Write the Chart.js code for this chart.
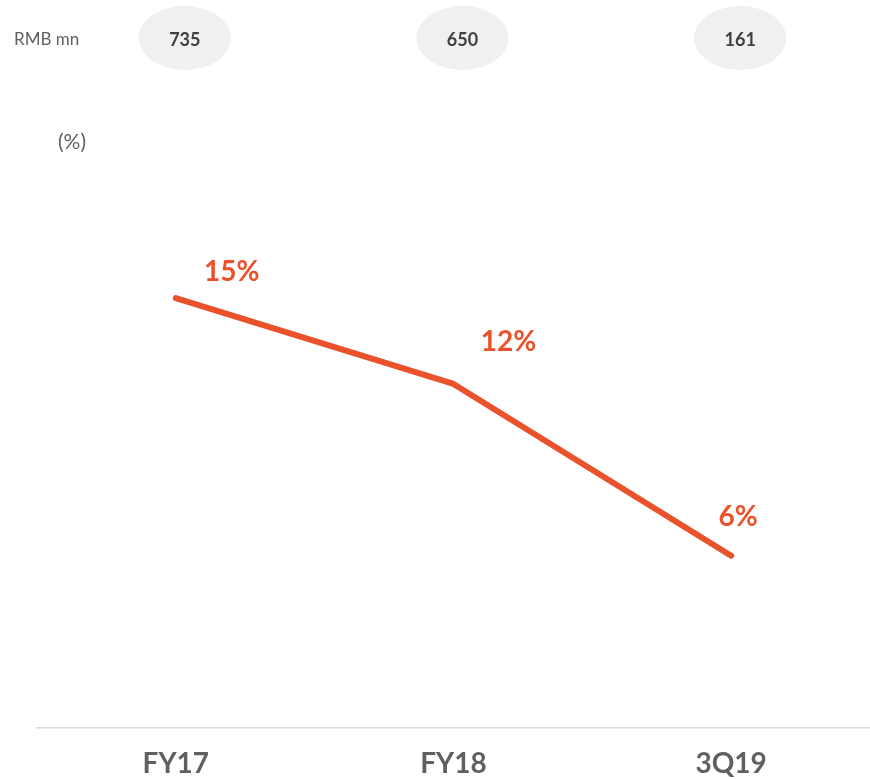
<!DOCTYPE html>
<html>
<head>
<meta charset="utf-8">
<script src="https://cdn.jsdelivr.net/npm/chart.js@4"></script>
<style>
  body { margin: 0; background: #fff; }
</style>
</head>
<body>
<canvas id="myChart" width="870" height="779"></canvas>
<script>
// data
var periods = ["FY17", "FY18", "3Q19"];
var marginPct = [15, 12, 6];
var amountRmbMn = [735, 650, 161];

var orange = "#e9522a";
var greyText = "#606060";

// label offsets from each point (px)
var labelOffsets = [[56, -26], [55, -42], [7, -39]];

var headerPlugin = {
  id: "header",
  afterDraw: function (chart) {
    var ctx = chart.ctx;
    var x = chart.scales.x;
    ctx.save();
    ctx.textBaseline = "middle";
    ctx.fillStyle = greyText;
    ctx.font = "17px Lato";
    ctx.textAlign = "left";
    ctx.fillText("RMB mn", 14, 40);
    ctx.font = "21px Lato";
    ctx.fillText("(%)", 58, 142);
    amountRmbMn.forEach(function (v, i) {
      var cx = x.getPixelForValue(i) + 9;
      ctx.beginPath();
      ctx.ellipse(cx, 38, 46, 32, 0, 0, Math.PI * 2);
      ctx.fillStyle = "#f0f0f0";
      ctx.fill();
      ctx.fillStyle = "#404040";
      ctx.font = "bold 18px Lato";
      ctx.textAlign = "center";
      ctx.fillText(String(v), cx, 40);
    });
    ctx.restore();
  },
};

var pctLabels = {
  id: "pctLabels",
  afterDatasetsDraw: function (chart) {
    var ctx = chart.ctx;
    var meta = chart.getDatasetMeta(0);
    ctx.save();
    ctx.fillStyle = orange;
    ctx.font = "bold 28px Lato";
    ctx.textAlign = "center";
    ctx.textBaseline = "middle";
    meta.data.forEach(function (pt, i) {
      var off = labelOffsets[i];
      ctx.fillText(marginPct[i] + "%", pt.x + off[0], pt.y + off[1]);
    });
    ctx.restore();
  },
};

var ctx = document.getElementById("myChart").getContext("2d");
var myChart = new Chart(ctx, {
  type: "line",
  data: {
    labels: periods,
    datasets: [
      {
        data: marginPct,
        borderColor: orange,
        borderWidth: 6,
        borderCapStyle: "round",
        borderJoinStyle: "round",
        pointRadius: 0,
        tension: 0,
      },
    ],
  },
  options: {
    responsive: false,
    animation: false,
    layout: {
      padding: { top: 155, left: 37, right: 0, bottom: -14 },
    },
    plugins: {
      legend: { display: false },
      tooltip: { enabled: false },
    },
    scales: {
      x: {
        offset: true,
        grid: { display: false },
        border: { display: true, color: "#d9d9d9", width: 1.5 },
        ticks: {
          padding: 12,
          color: greyText,
          font: { family: "Lato", size: 28, weight: "bold" },
        },
      },
      y: {
        display: false,
        min: 0,
        max: 20,
      },
    },
  },
  plugins: [headerPlugin, pctLabels],
});
</script>
</body>
</html>
